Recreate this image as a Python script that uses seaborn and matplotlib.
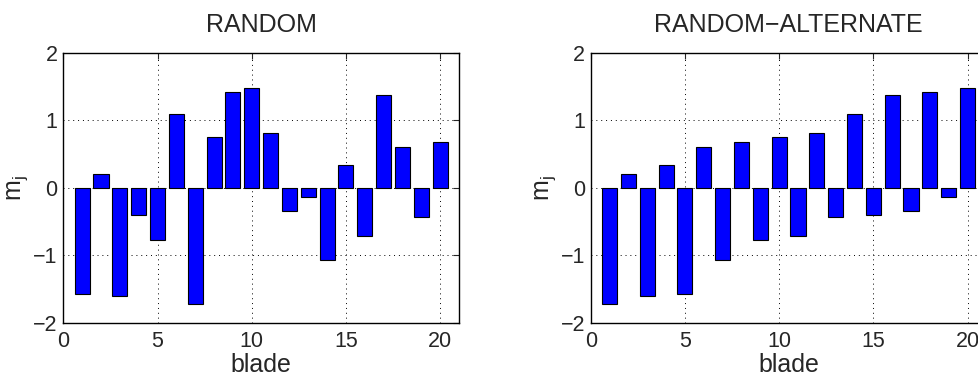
import matplotlib
matplotlib.use("Agg")
import matplotlib.pyplot as plt
import seaborn as sns
import numpy as np
import pandas as pd

# blade numbers and modal values for the two orderings
blade = list(range(1, 21))
m_random = [-1.58, 0.21, -1.61, -0.41, -0.78, 1.09, -1.72, 0.75, 1.42, 1.48,
            0.81, -0.34, -0.14, -1.07, 0.34, -0.72, 1.37, 0.61, -0.43, 0.67]
m_alternate = [-1.72, 0.21, -1.61, 0.34, -1.58, 0.61, -1.07, 0.67, -0.78, 0.75,
               -0.72, 0.81, -0.43, 1.09, -0.41, 1.37, -0.34, 1.42, -0.14, 1.48]
titles = ["RANDOM", "RANDOM\u2212ALTERNATE"]
xticks = [0, 5, 10, 15, 20]
yticks = [-2, -1, 0, 1, 2]
ytick_labels = ["\u22122", "\u22121", "0", "1", "2"]

sns.set_style("white")
plt.rcParams["font.family"] = ["Liberation Sans", "DejaVu Sans"]
plt.rcParams["mathtext.fontset"] = "custom"
plt.rcParams["mathtext.rm"] = "Liberation Sans"
plt.rcParams["mathtext.it"] = "Liberation Sans"

fig = plt.figure(figsize=(9.79, 3.80), dpi=100)
W, H = 979.0, 380.0
ax_w, ax_h = 395.7, 270.0
bottom = (H - 322.7) / H
positions = [63.3, 590.7]

for left, vals, title in zip(positions, [m_random, m_alternate], titles):
    ax = fig.add_axes([left / W, bottom, ax_w / W, ax_h / H])
    df = pd.DataFrame({"blade": blade, "m": vals})
    sns.barplot(data=df, x="blade", y="m", native_scale=True, width=0.8,
                color="#0000ff", saturation=1, edgecolor="black",
                linewidth=0.8, ax=ax)
    ax.set_xlim(0, 21)
    ax.set_ylim(-2, 2)
    ax.set_xticks(xticks)
    ax.set_xticklabels([str(t) for t in xticks])
    ax.set_yticks(yticks)
    ax.set_yticklabels(ytick_labels)
    ax.set_axisbelow(True)
    ax.grid(True, linestyle=(0, (1, 4)), color="black", linewidth=0.7)
    ax.tick_params(direction="in", top=True, right=True, length=4,
                   width=0.8, labelsize=15.5)
    ax.tick_params(axis="x", pad=6)
    ax.tick_params(axis="y", pad=4)
    for s in ax.spines.values():
        s.set_color("black")
        s.set_linewidth(1.0)
    ax.set_title(title, fontsize=18, pad=15)
    ax.set_xlabel("blade", fontsize=18, labelpad=1)
    ax.set_ylabel(r"m$_{\mathregular{j}}$", fontsize=18, labelpad=2)

fig.savefig("out.png", dpi=100)
